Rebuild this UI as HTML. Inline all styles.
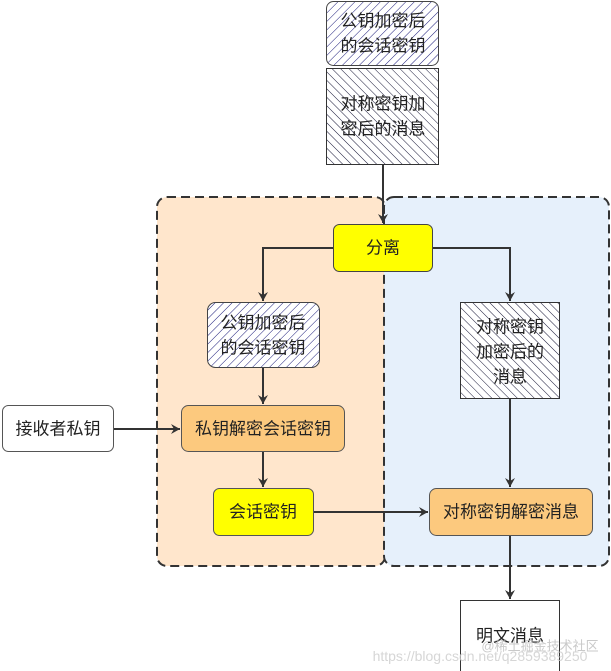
<!DOCTYPE html>
<html><head><meta charset="utf-8"><style>
html,body{margin:0;padding:0;background:#fff;}
svg{display:block;}
text{font-family:"Liberation Sans","Noto Sans CJK SC",sans-serif;font-size:17px;fill:#222;text-anchor:middle;dominant-baseline:central;}
</style></head><body>
<svg width="611" height="671" viewBox="0 0 611 671" xmlns="http://www.w3.org/2000/svg">
<defs>
<pattern id="h1" width="6" height="6" patternUnits="userSpaceOnUse" patternTransform="rotate(45)">
<rect width="6" height="6" fill="#fff"/><line x1="0" y1="0" x2="0" y2="6" stroke="#1a1a7a" stroke-width="1"/></pattern>
<pattern id="h2" width="6" height="6" patternUnits="userSpaceOnUse" patternTransform="rotate(-45)">
<rect width="6" height="6" fill="#fff"/><line x1="0" y1="0" x2="0" y2="6" stroke="#1a1a3a" stroke-width="1"/></pattern>
<marker id="a" markerWidth="12" markerHeight="12" refX="10" refY="6" orient="auto" markerUnits="userSpaceOnUse">
<path d="M1,1 L10,6 L1,11 L4,6 Z" fill="#333"/></marker>
</defs>
<rect x="157" y="197" width="228" height="369" rx="10" fill="#ffe6cc" stroke="#333" stroke-width="2" stroke-dasharray="9,5"/>
<rect x="384" y="197" width="225" height="369" rx="10" fill="#e6f0fb" stroke="#333" stroke-width="2" stroke-dasharray="9,5"/>

<rect x="326.5" y="1.5" width="112" height="64" rx="7" fill="url(#h1)" stroke="#444"/>
<text x="383" y="21">公钥加密后</text><text x="383" y="46">的会话密钥</text>
<rect x="326.5" y="68.5" width="112" height="96" fill="url(#h2)" stroke="#333"/>
<text x="383" y="104">对称密钥加</text><text x="383" y="129">密后的消息</text>

<line x1="383" y1="165" x2="383" y2="223" stroke="#333" stroke-width="2" marker-end="url(#a)"/>
<rect x="333.5" y="224.5" width="99" height="47" rx="6" fill="#ffff00" stroke="#444"/>
<text x="383" y="248">分离</text>
<polyline points="333,248 263,248 263,301" fill="none" stroke="#333" stroke-width="2" marker-end="url(#a)"/>
<polyline points="433,248 510,248 510,301" fill="none" stroke="#333" stroke-width="2" marker-end="url(#a)"/>

<rect x="207.5" y="302.5" width="112" height="65" rx="8" fill="url(#h1)" stroke="#444"/>
<text x="263" y="323">公钥加密后</text><text x="263" y="348">的会话密钥</text>
<rect x="460.5" y="302.5" width="99" height="96" fill="url(#h2)" stroke="#333"/>
<text x="510" y="327">对称密钥</text><text x="510" y="352">加密后的</text><text x="510" y="377">消息</text>

<line x1="263" y1="368" x2="263" y2="404" stroke="#333" stroke-width="2" marker-end="url(#a)"/>
<rect x="2.5" y="405.5" width="111" height="46" rx="6" fill="#fff" stroke="#555"/>
<text x="58" y="429">接收者私钥</text>
<line x1="114" y1="429" x2="180" y2="429" stroke="#333" stroke-width="2" marker-end="url(#a)"/>
<rect x="181.5" y="405.5" width="163" height="46" rx="7" fill="#fcc97e" stroke="#555"/>
<text x="263" y="429">私钥解密会话密钥</text>
<line x1="263" y1="452" x2="263" y2="487" stroke="#333" stroke-width="2" marker-end="url(#a)"/>
<rect x="213.5" y="488.5" width="100" height="47" rx="6" fill="#ffff00" stroke="#555"/>
<text x="263" y="512">会话密钥</text>
<line x1="314" y1="512" x2="428" y2="512" stroke="#333" stroke-width="2" marker-end="url(#a)"/>
<line x1="510" y1="399" x2="510" y2="487" stroke="#333" stroke-width="2" marker-end="url(#a)"/>
<rect x="429.5" y="488.5" width="163" height="47" rx="7" fill="#fcc97e" stroke="#555"/>
<text x="511" y="512">对称密钥解密消息</text>
<line x1="510" y1="536" x2="510" y2="599" stroke="#333" stroke-width="2" marker-end="url(#a)"/>
<rect x="460.5" y="600.5" width="99" height="72" fill="#fff" stroke="#333"/>
<text x="510" y="636">明文消息</text>
<text x="480" y="656" style="font-size:14px;fill:#ccc;fill-opacity:0.8">https://blog.csdn.net/q2859389250</text>
<text x="540" y="646" style="font-size:13px;fill:#bbb;fill-opacity:0.8">@稀土掘金技术社区</text>
</svg>
</body></html>
